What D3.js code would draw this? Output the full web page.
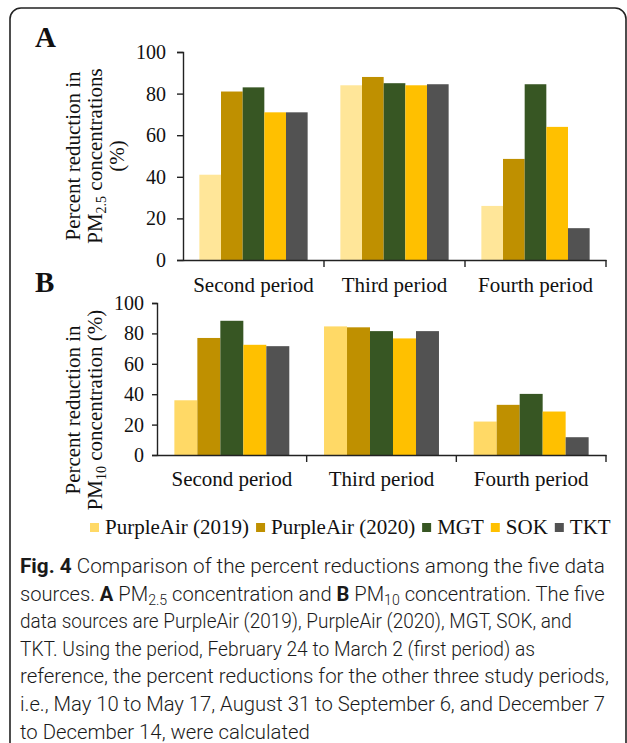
<!DOCTYPE html>
<html>
<head>
<meta charset="utf-8">
<title>Fig. 4 percent reductions</title>
<script src="https://cdn.jsdelivr.net/npm/d3@7"></script>
<style>
  body { margin: 0; background: #fff; }
  svg text { font-family: "Liberation Serif", "Times New Roman", serif; fill: #111; }
  .caption text { font-family: Roboto, "Open Sans", sans-serif; font-weight: 300; fill: #1a1a1a; }
</style>
</head>
<body>
<svg id="chart" width="627" height="743"></svg>
<script>
var categories = ["Second period", "Third period", "Fourth period"];
var sources = ["PurpleAir (2019)", "PurpleAir (2020)", "MGT", "SOK", "TKT"];
var yTicks = [0, 20, 40, 60, 80, 100];

// percent reduction, one array per source, in category order
var pm25 = {
  "PurpleAir (2019)": [41, 84, 26],
  "PurpleAir (2020)": [81, 88, 48.6],
  "MGT":              [83, 85, 84.5],
  "SOK":              [71, 84, 64],
  "TKT":              [71, 84.5, 15.3]
};
var pm10 = {
  "PurpleAir (2019)": [36, 84.6, 22],
  "PurpleAir (2020)": [77, 84, 33],
  "MGT":              [88.3, 81.5, 40.2],
  "SOK":              [72.5, 76.7, 28.6],
  "TKT":              [71.6, 81.5, 11.7]
};

var colorsA = ["#FFE699", "#BF9000", "#375623", "#FFC000", "#525252"];
var colorsB = ["#FFD966", "#BF9000", "#375623", "#FFC000", "#525252"];

var svg = d3.select("#chart");

// frame
svg.append("rect")
  .attr("x", 10).attr("y", 8).attr("width", 616).attr("height", 800)
  .attr("rx", 11).attr("fill", "none").attr("stroke", "#222").attr("stroke-width", 1.6);

function panel(opt) {
  var g = svg.append("g");
  var x0 = d3.scaleBand().domain(categories).range([opt.left, opt.right]);
  var bw = x0.bandwidth();
  var x1 = d3.scaleBand().domain(sources).range([bw * 0.116, bw * 0.884]);
  var y = d3.scaleLinear().domain([0, 100]).range([opt.bottom, opt.top]);
  var color = d3.scaleOrdinal().domain(sources).range(opt.colors);

  // bars
  var rows = [];
  categories.forEach(function(c, i) {
    sources.forEach(function(s) { rows.push({cat: c, src: s, v: opt.data[s][i]}); });
  });
  g.selectAll("rect.bar").data(rows).join("rect")
    .attr("class", "bar")
    .attr("x", function(d) { return x0(d.cat) + x1(d.src); })
    .attr("width", x1.bandwidth())
    .attr("y", function(d) { return y(d.v); })
    .attr("height", function(d) { return y(0) - y(d.v); })
    .attr("fill", function(d) { return color(d.src); });

  // y axis
  var ya = g.append("g").attr("transform", "translate(" + opt.left + ",0)")
    .call(d3.axisLeft(y).tickValues(yTicks).tickSize(opt.tick).tickPadding(opt.pad));
  ya.select(".domain").attr("stroke", "#222").attr("stroke-width", 1.4);
  ya.selectAll(".tick line").attr("stroke", "#222").attr("stroke-width", 1.4);
  ya.selectAll("text").attr("font-family", "Liberation Serif").attr("font-size", 20).attr("fill", "#111");

  // x axis: line with ticks at category borders
  var xa = g.append("g").attr("transform", "translate(0," + opt.bottom + ")")
    .call(d3.axisBottom(x0).tickSize(0).tickPadding(opt.labelPad));
  xa.select(".domain").attr("stroke", "#222").attr("stroke-width", 1.4);
  xa.selectAll("text").attr("font-family", "Liberation Serif").attr("font-size", 21).attr("fill", "#111");
  g.selectAll("line.border").data(categories).join("line")
    .attr("class", "border")
    .attr("x1", function(c) { return x0(c) + bw; })
    .attr("x2", function(c) { return x0(c) + bw; })
    .attr("y1", opt.bottom).attr("y2", opt.bottom + 7)
    .attr("stroke", "#222").attr("stroke-width", 1.4);

  // panel letter
  g.append("text").attr("x", opt.letterX).attr("y", opt.letterY)
    .attr("font-size", 29).attr("font-weight", "bold").text(opt.letter);

  // y title
  var t = g.append("g").attr("transform", "translate(0," + opt.titleY + ")");
  opt.title.forEach(function(line, i) {
    var tx = t.append("text")
      .attr("transform", "translate(" + (80 + i * 22) + ",0) rotate(-90)")
      .attr("text-anchor", "middle").attr("font-size", 21);
    line.forEach(function(part) {
      var ts = tx.append("tspan").text(part[0]);
      if (part[1] === "sub") ts.attr("font-size", 14).attr("dy", 4);
      if (part[1] === "up") ts.attr("dy", -4);
    });
  });
}

panel({
  data: pm25, colors: colorsA, letter: "A", letterX: 35, letterY: 47,
  left: 183, right: 606, top: 52, bottom: 260, tick: 6, pad: 11, labelPad: 17,
  titleY: 156,
  title: [
    [["Percent reduction in"]],
    [["PM"], ["2.5", "sub"], [" concentrations", "up"]],
    [["(%)"]]
  ]
});

panel({
  data: pm10, colors: colorsB, letter: "B", letterX: 35, letterY: 292,
  left: 157, right: 606, top: 303, bottom: 455, tick: 5, pad: 8, labelPad: 16,
  titleY: 410,
  title: [
    [["Percent reduction in"]],
    [["PM"], ["10", "sub"], [" concentration (%)", "up"]]
  ]
});

// legend
var leg = svg.append("g");
var lx = 90;
sources.forEach(function(s, i) {
  leg.append("rect").attr("x", lx).attr("y", 523).attr("width", 9).attr("height", 9)
    .attr("fill", colorsB[i]);
  var tx = leg.append("text").attr("x", lx + 15).attr("y", 534).attr("font-size", 21).text(s);
  lx += 15 + tx.node().getComputedTextLength() + 7;
});

// caption, each line squeezed to the width it has in the figure
var captionLines = [
  [["Fig. 4", "b"], [" Comparison of the percent reductions among the five data"]],
  [["sources. "], ["A", "b"], [" PM"], ["2.5", "sub"], [" concentration and ", "up"], ["B", "b"], [" PM"], ["10", "sub"], [" concentration. The five", "up"]],
  [["data sources are PurpleAir (2019), PurpleAir (2020), MGT, SOK, and"]],
  [["TKT. Using the period, February 24 to March 2 (first period) as"]],
  [["reference, the percent reductions for the other three study periods,"]],
  [["i.e., May 10 to May 17, August 31 to September 6, and December 7"]],
  [["to December 14, were calculated"]]
];
var captionWidths = [585, 585, 552, 515, 589, 585, 290];
var cap = svg.append("g").attr("class", "caption");
captionLines.forEach(function(line, i) {
  var tx = cap.append("text").attr("font-size", 20);
  line.forEach(function(part) {
    var ts = tx.append("tspan").text(part[0]);
    if (part[1] === "b") ts.attr("font-weight", 700);
    if (part[1] === "sub") ts.attr("font-size", 14).attr("dy", 4);
    if (part[1] === "up") ts.attr("dy", -4);
  });
  var sx = captionWidths[i] / tx.node().getComputedTextLength();
  tx.attr("transform", "translate(20," + (573 + i * 27.6) + ") scale(" + sx + ",1)");
});
</script>
</body>
</html>
